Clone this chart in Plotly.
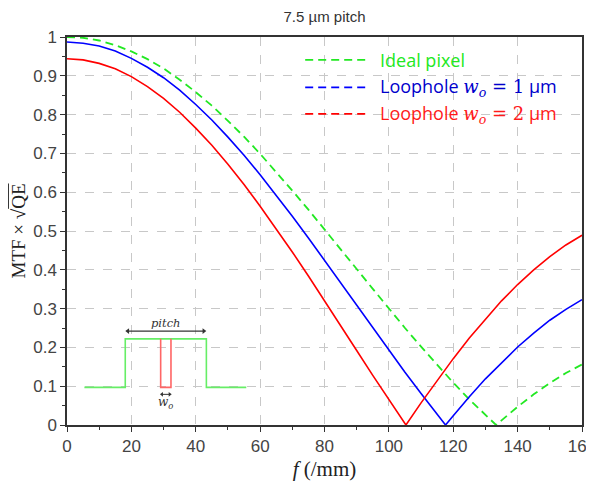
import plotly.graph_objects as go

# ---- data ----
ideal_f = [0, 5, 10, 15, 20, 25, 30, 35, 40, 45, 50, 55, 60, 65, 70, 75, 80, 85, 90, 95,
           100, 105, 110, 115, 120, 125, 130, 133.3, 135, 140, 145, 150, 155, 160]
ideal_mtf = [1.0, 0.998, 0.991, 0.979, 0.963, 0.943, 0.919, 0.890, 0.858, 0.823, 0.784, 0.743,
             0.699, 0.652, 0.604, 0.555, 0.505, 0.453, 0.402, 0.351, 0.300, 0.250, 0.202,
             0.155, 0.109, 0.066, 0.026, 0.0, 0.012, 0.047, 0.079, 0.108, 0.134, 0.156]

w1_f = [0, 5, 10, 15, 20, 25, 30, 35, 40, 45, 50, 55, 60, 65, 70, 75, 80, 85, 90, 95,
        100, 105, 110, 115, 117.6, 120, 125, 130, 135, 140, 145, 150, 155, 160]
w1_mtf = [0.987, 0.984, 0.977, 0.964, 0.945, 0.922, 0.895, 0.863, 0.826, 0.786, 0.742, 0.695,
          0.645, 0.592, 0.538, 0.482, 0.424, 0.366, 0.308, 0.250, 0.192, 0.136, 0.081,
          0.027, 0.0, 0.024, 0.073, 0.119, 0.161, 0.201, 0.237, 0.270, 0.298, 0.323]

w2_f = [0, 5, 10, 15, 20, 25, 30, 35, 40, 45, 50, 55, 60, 65, 70, 75, 80, 85, 90, 95,
        100, 105.3, 110, 115, 120, 125, 130, 135, 140, 145, 150, 155, 160]
w2_mtf = [0.944, 0.941, 0.932, 0.918, 0.898, 0.872, 0.842, 0.806, 0.765, 0.721, 0.672, 0.620,
          0.564, 0.506, 0.446, 0.384, 0.321, 0.257, 0.192, 0.128, 0.065, 0.0, 0.057,
          0.115, 0.171, 0.224, 0.273, 0.320, 0.362, 0.400, 0.434, 0.464, 0.489]

x_ticks = [0, 20, 40, 60, 80, 100, 120, 140, 160]
y_ticks = [0, 0.1, 0.2, 0.3, 0.4, 0.5, 0.6, 0.7, 0.8, 0.9, 1.0]
y_tick_labels = ["0", "0.1", "0.2", "0.3", "0.4", "0.5", "0.6", "0.7", "0.8", "0.9", "1"]

MATH = "font-family:'DejaVu Serif',serif"
legend_names = [
    "Ideal pixel",
    "Loophole <span style=\"%s\"><i>w<sub>o</sub></i> = 1</span> µm" % MATH,
    "Loophole <span style=\"%s\"><i>w<sub>o</sub></i> = 2</span> µm" % MATH,
]

GREEN = "#22e822"
BLUE = "#0000ff"
RED = "#ff0000"
LEG_COLS = ["#22e822", "#0000cc", "#ff1a1a"]

fig = go.Figure()
fig.add_trace(go.Scatter(x=ideal_f, y=ideal_mtf, mode="lines", showlegend=False,
                         line=dict(color=GREEN, width=1.8, dash="8px,5px")))
fig.add_trace(go.Scatter(x=w1_f, y=w1_mtf, mode="lines", showlegend=False,
                         line=dict(color=BLUE, width=1.6)))
fig.add_trace(go.Scatter(x=w2_f, y=w2_mtf, mode="lines", showlegend=False,
                         line=dict(color=RED, width=1.6)))

shapes = []
annotations = []

# custom legend (dashed samples + coloured text)
leg_y = [0.941, 0.870, 0.802]
for yy, lcol, tcol, name in zip(leg_y, [GREEN, BLUE, RED], LEG_COLS, legend_names):
    shapes.append(dict(type="line", xref="x", yref="y", x0=74, x1=93.5, y0=yy, y1=yy,
                       line=dict(color=lcol, width=1.8, dash="8px,5px")))
    annotations.append(dict(x=96.6, y=yy, xref="x", yref="y", text=name, showarrow=False,
                            xanchor="left", yanchor="middle",
                            font=dict(family="Open Sans, sans-serif", size=18, color=tcol)))

# pixel inset diagram
shapes.append(dict(type="path", xref="x", yref="y",
                   path="M 5.4,0.097 L 18.1,0.097 L 18.1,0.222 L 43.3,0.222 L 43.3,0.097 L 55.7,0.097",
                   line=dict(color="#66ee66", width=1.6)))
shapes.append(dict(type="path", xref="x", yref="y",
                   path="M 29.1,0.222 L 29.1,0.097 L 32.3,0.097 L 32.3,0.222",
                   line=dict(color="#ff6666", width=1.6)))
# double arrows (pitch and w_o)
shapes.append(dict(type="line", xref="x", yref="y", x0=18.6, x1=42.8, y0=0.242, y1=0.242,
                   line=dict(color="#333333", width=1.1)))
shapes.append(dict(type="line", xref="x", yref="y", x0=29.5, x1=31.9, y0=0.079, y1=0.079,
                   line=dict(color="#333333", width=1.0)))
fig.add_trace(go.Scatter(x=[18.9, 42.5], y=[0.242, 0.242], mode="markers", showlegend=False,
                         hoverinfo="skip",
                         marker=dict(symbol=["triangle-left", "triangle-right"], size=5,
                                     color="#333333", line=dict(width=0))))
fig.add_trace(go.Scatter(x=[29.5, 31.9], y=[0.079, 0.079], mode="markers", showlegend=False,
                         hoverinfo="skip",
                         marker=dict(symbol=["triangle-left", "triangle-right"], size=4,
                                     color="#333333", line=dict(width=0))))
annotations.append(dict(x=30.7, y=0.263, xref="x", yref="y", text="<i>pitch</i>", showarrow=False,
                        font=dict(family="DejaVu Serif, serif", size=11.5, color="#333333")))
annotations.append(dict(x=30.7, y=0.057, xref="x", yref="y", text="<i>w<sub>o</sub></i>", showarrow=False,
                        font=dict(family="DejaVu Serif, serif", size=12, color="#333333")))

axis_common = dict(
    showline=True, linecolor="#333333", linewidth=1.5, mirror=True,
    showgrid=True, gridcolor="#c8c8c8", gridwidth=1, griddash="dash",
    ticks="outside", ticklen=5, tickwidth=1.2, tickcolor="#333333",
    tickfont=dict(family="Liberation Sans, Arial, sans-serif", size=17, color="#444444"),
    zeroline=False, automargin=False, ticklabeloverflow="allow",
)

# the page body adds an 8px margin, so the figure is sized to fit the 594x484 window
fig.update_layout(
    width=586, height=476,
    margin=dict(l=59, r=12, t=29, b=59),
    paper_bgcolor="white", plot_bgcolor="white",
    title=dict(text="7.5 µm pitch", x=0.5, xref="paper", y=0.981, yref="container",
               xanchor="center", yanchor="middle",
               font=dict(family="Liberation Sans, Arial, sans-serif", size=15, color="#333333")),
    xaxis=dict(range=[0, 160], tickvals=x_ticks, ticktext=[str(v) for v in x_ticks],
               minor=dict(dtick=10, ticks="outside", ticklen=3, tickcolor="#333333", showgrid=False),
               title=dict(text="<i>f</i> (/mm)", standoff=6,
                          font=dict(family="Liberation Serif, Times New Roman, serif", size=21, color="#222222")),
               **axis_common),
    yaxis=dict(range=[0, 1], tickvals=y_ticks, ticktext=y_tick_labels,
               minor=dict(dtick=0.05, ticks="outside", ticklen=3, tickcolor="#333333", showgrid=False),
               title=dict(text="MTF × √<span style='text-decoration:overline'>QE</span>", standoff=8,
                          font=dict(family="Liberation Serif, Times New Roman, serif", size=19, color="#222222")),
               **axis_common),
    shapes=shapes,
    annotations=annotations,
)

fig.write_html("out.html")
